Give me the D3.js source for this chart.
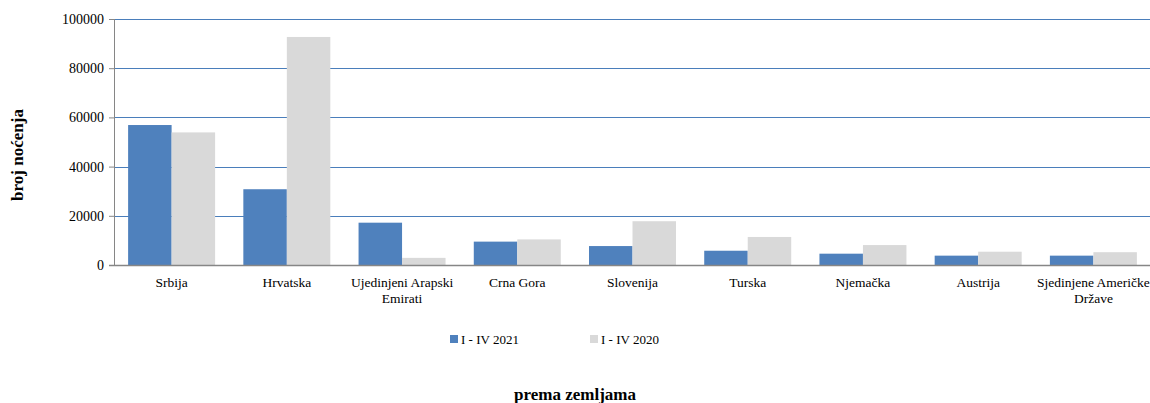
<!DOCTYPE html>
<html>
<head>
<meta charset="utf-8">
<script src="https://cdn.jsdelivr.net/npm/d3@7"></script>
<style>
  body { margin: 0; background: #fff; }
  svg text { font-family: "Liberation Serif", "DejaVu Serif", serif; fill: #000; }
</style>
</head>
<body>
<div id="chart"></div>
<script>
// data
var categories = ["Srbija", "Hrvatska", "Ujedinjeni Arapski Emirati", "Crna Gora", "Slovenija",
  "Turska", "Njemačka", "Austrija", "Sjedinjene Američke Države"];
var labelLines = [["Srbija"], ["Hrvatska"], ["Ujedinjeni Arapski", "Emirati"], ["Crna Gora"], ["Slovenija"],
  ["Turska"], ["Njemačka"], ["Austrija"], ["Sjedinjene Američke", "Države"]];
var seriesNames = ["I - IV 2021", "I - IV 2020"];
var values2021 = [56900, 30800, 17200, 9500, 7700, 5800, 4600, 3800, 3800];
var values2020 = [53900, 92700, 2900, 10400, 17800, 11400, 8100, 5400, 5200];
var yTicks = [0, 20000, 40000, 60000, 80000, 100000];
var colors = ["#4f81bd", "#d9d9d9"];

var W = 1150, H = 403;
var margin = {top: 19, right: -1, bottom: 138, left: 114};
var width = W - margin.left - margin.right,
    height = H - margin.top - margin.bottom;

var svg = d3.select("#chart").append("svg")
    .attr("width", W)
    .attr("height", H);

var g = svg.append("g")
    .attr("transform", "translate(" + margin.left + "," + margin.top + ")");

var x0 = d3.scaleBand()
    .domain(categories)
    .range([0, width])
    .paddingInner(0.245)
    .paddingOuter(0.1225);

var x1 = d3.scaleBand()
    .domain(seriesNames)
    .range([0, x0.bandwidth()]);

var y = d3.scaleLinear()
    .domain([0, 100000])
    .range([height, 0]);

// gridlines
g.selectAll(".grid")
    .data(yTicks.filter(function(d) { return d > 0; }))
  .enter().append("line")
    .attr("x1", 0)
    .attr("x2", width)
    .attr("y1", function(d) { return Math.round(y(d)) + 0.5; })
    .attr("y2", function(d) { return Math.round(y(d)) + 0.5; })
    .attr("stroke", "#4a7ebb")
    .attr("stroke-width", 1);

// bars
var rows = categories.map(function(c, i) {
  return {cat: c, vals: [values2021[i], values2020[i]]};
});

var groups = g.selectAll(".grp")
    .data(rows)
  .enter().append("g")
    .attr("transform", function(d) { return "translate(" + x0(d.cat) + ",0)"; });

groups.selectAll("rect")
    .data(function(d) { return d.vals.map(function(v, j) { return {s: seriesNames[j], v: v, j: j}; }); })
  .enter().append("rect")
    .attr("x", function(d) { return x1(d.s); })
    .attr("width", x1.bandwidth())
    .attr("y", function(d) { return y(d.v); })
    .attr("height", function(d) { return height - y(d.v); })
    .attr("fill", function(d) { return colors[d.j]; });

// y axis
var yAxis = g.append("g")
    .call(d3.axisLeft(y).tickValues(yTicks).tickSize(5).tickPadding(5).tickFormat(d3.format("d")));
yAxis.select(".domain").attr("stroke", "#868686").attr("d", "M0.5,0V" + height);
yAxis.selectAll(".tick line").attr("stroke", "#868686");
yAxis.selectAll("text").style("font-size", "14px").style("font-family", "Liberation Serif, serif");

// x axis baseline
g.append("line")
    .attr("x1", -5)
    .attr("x2", width)
    .attr("y1", height + 0.5)
    .attr("y2", height + 0.5)
    .attr("stroke", "#868686")
    .attr("stroke-width", 1.5);

// category labels
var labels = g.selectAll(".cat")
    .data(categories)
  .enter().append("text")
    .attr("text-anchor", "middle")
    .style("font-size", "13.5px")
    .attr("transform", function(d) { return "translate(" + (x0(d) + x0.bandwidth() / 2) + "," + (height + 22) + ")"; });

labels.each(function(d, i) {
  var t = d3.select(this);
  labelLines[i].forEach(function(line, k) {
    t.append("tspan").attr("x", 0).attr("dy", k === 0 ? 0 : 15.5).text(line);
  });
  // keep the last label inside the chart
  var bb = this.getBBox();
  var cx = x0(d) + x0.bandwidth() / 2;
  var maxX = width - 1 - bb.width / 2;
  if (cx > maxX) {
    t.attr("transform", "translate(" + maxX + "," + (height + 22) + ")");
  }
});

// y axis title
svg.append("text")
    .attr("transform", "translate(23,155) rotate(-90)")
    .attr("text-anchor", "middle")
    .style("font-size", "17px")
    .style("font-weight", "bold")
    .text("broj noćenja");

// legend
var legendX = [450, 590];
seriesNames.forEach(function(s, i) {
  svg.append("rect")
    .attr("x", legendX[i])
    .attr("y", 335)
    .attr("width", 8)
    .attr("height", 8)
    .attr("fill", colors[i]);
  svg.append("text")
    .attr("x", legendX[i] + 11)
    .attr("y", 344)
    .style("font-size", "13px")
    .text(s);
});

// x axis title
svg.append("text")
    .attr("x", 575)
    .attr("y", 400)
    .attr("text-anchor", "middle")
    .style("font-size", "17px")
    .style("font-weight", "bold")
    .text("prema zemljama");
</script>
</body>
</html>
